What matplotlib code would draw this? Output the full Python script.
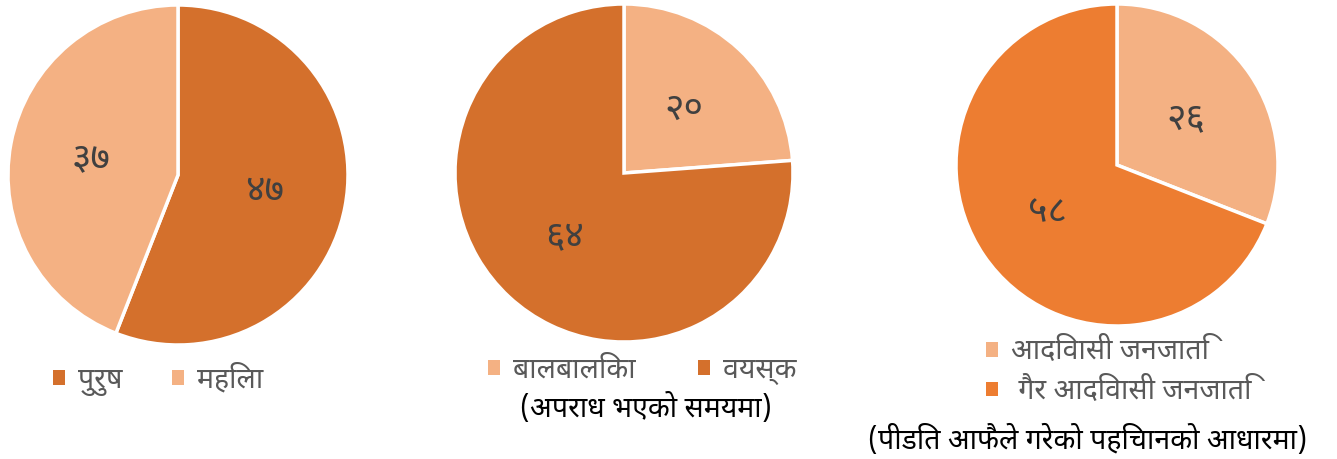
import matplotlib
matplotlib.use("Agg")
import matplotlib.pyplot as plt
from matplotlib import font_manager
from matplotlib.patches import Patch

# ---- data ----
gender_labels = ["पुरुष", "महिला"]
gender_values = [47, 37]
age_labels = ["बालबालिका", "वयस्क"]
age_values = [20, 64]
ethnic_labels = ["आदिवासी जनजाति", " गैर आदिवासी जनजाति"]
ethnic_values = [26, 58]
age_caption = "(अपराध भएको समयमा)"
ethnic_caption = "(पीडित आफैले गरेको पहिचानको आधारमा)"

DARK = "#D4702C"
LIGHT = "#F4B183"
ORANGE = "#ED7D31"

available = {f.name for f in font_manager.fontManager.ttflist}
deva = None
for cand in ["Noto Sans Devanagari", "Mukta", "Hind", "Annapurna SIL", "Lohit Devanagari", "Kalimati"]:
    if cand in available:
        deva = cand
        break
fams = [deva, "DejaVu Sans"] if deva else ["DejaVu Sans"]
plt.rcParams["font.family"] = fams

DIG = "०१२३४५६७८९"
def to_deva(n):
    return "".join(DIG[int(c)] for c in str(n))

W, H = 1337, 459
fig = plt.figure(figsize=(W / 100, H / 100), dpi=100)

def pie_axes(cx, cy, r):
    return fig.add_axes([(cx - r) / W, (H - cy - r) / H, 2 * r / W, 2 * r / H])

def draw_pie(ax, values, colors):
    wedges, texts = ax.pie(values, colors=colors, startangle=90, counterclock=False,
                           radius=1.0, labels=[to_deva(v) for v in values],
                           labeldistance=0.52,
                           wedgeprops=dict(edgecolor="white", linewidth=2.5),
                           textprops=dict(color="#404040", fontsize=27, ha="center", va="center"))
    for t in texts:
        t.set_ha("center")
        t.set_va("center")
    ax.set_xlim(-1, 1)
    ax.set_ylim(-1, 1)
    ax.set_aspect("equal")
    ax.axis("off")
    return [Patch(facecolor=c, edgecolor="none") for c in colors]

ax1 = pie_axes(178, 175, 170)
h1 = draw_pie(ax1, gender_values, [DARK, LIGHT])
ax2 = pie_axes(624, 173, 169)
h2 = draw_pie(ax2, age_values, [LIGHT, DARK])
ax3 = pie_axes(1117, 165, 161)
h3 = draw_pie(ax3, ethnic_values, [LIGHT, ORANGE])

FS = 20.5
leg_kw = dict(frameon=False, handlelength=0.42, handleheight=0.42, labelcolor="#595959",
              prop=dict(size=FS), borderaxespad=0, handletextpad=0.45)

fig.legend(h1, gender_labels, loc="center", bbox_to_anchor=(158 / W, 1 - 380 / H),
           ncol=2, columnspacing=1.75, **leg_kw)
fig.legend(h2, age_labels, loc="center", bbox_to_anchor=(642 / W, 1 - 370 / H),
           ncol=2, columnspacing=2.2, **leg_kw)
fig.text(646 / W, 1 - 408 / H, age_caption, ha="center", va="center", fontsize=FS, color="black")
fig.legend(h3, ethnic_labels, loc="upper left", bbox_to_anchor=(975 / W, 1 - 326 / H),
           ncol=1, labelspacing=0.38, **leg_kw)
fig.text(1088 / W, 1 - 440 / H, ethnic_caption, ha="center", va="center", fontsize=FS, color="black")

fig.savefig("out.png", dpi=100)
